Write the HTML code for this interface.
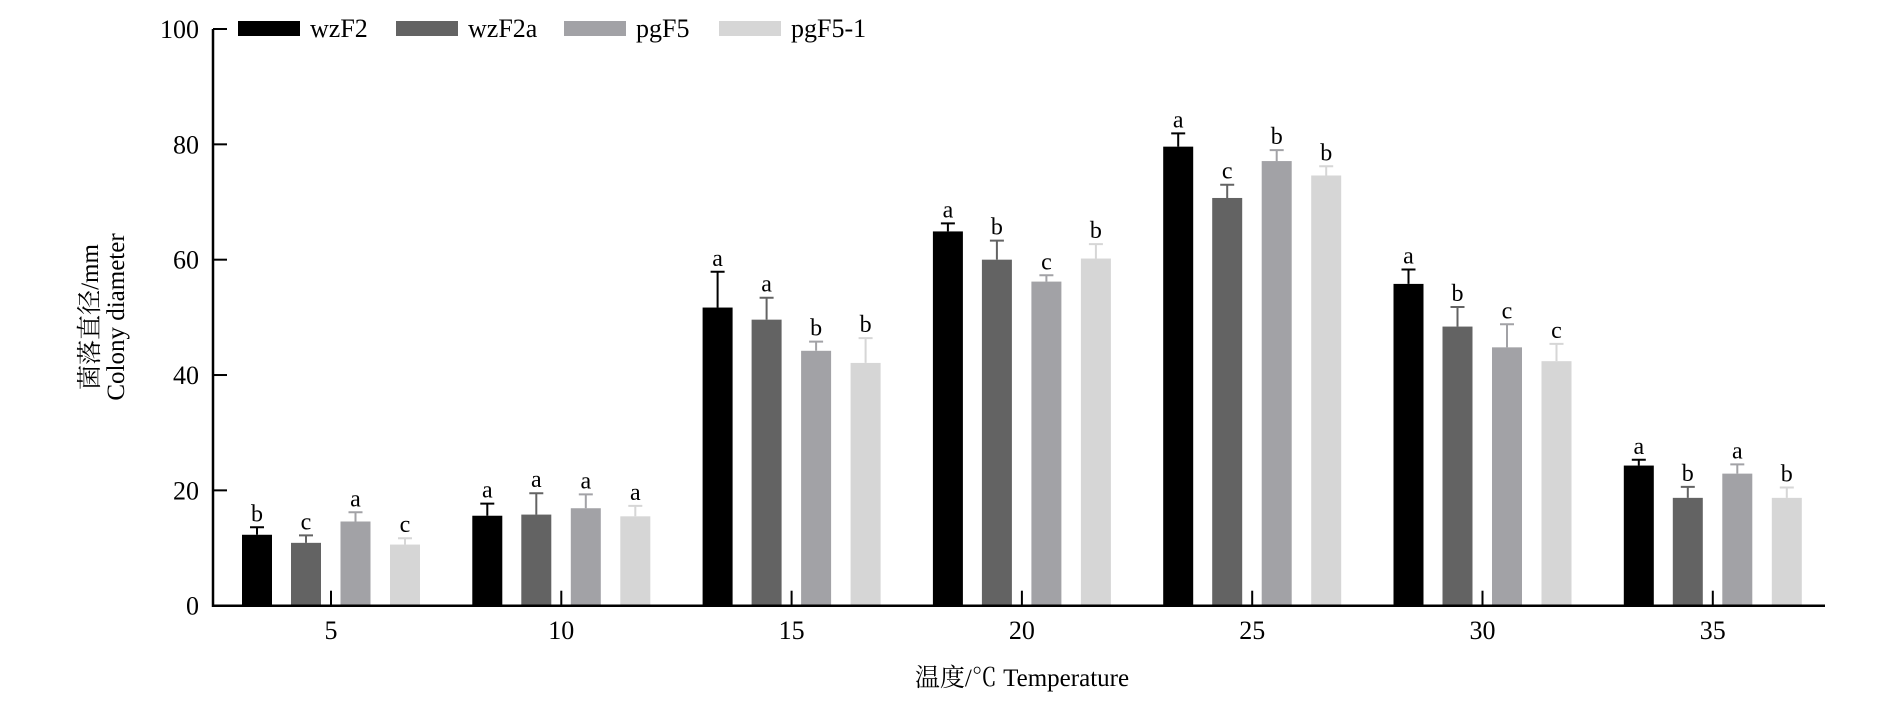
<!DOCTYPE html>
<html><head><meta charset="utf-8"><style>
html,body{margin:0;padding:0;background:#fff;}
svg text{font-family:"Liberation Serif","Noto Serif CJK SC",serif;fill:#000;}
</style></head><body>
<svg width="1890" height="709" viewBox="0 0 1890 709" xmlns="http://www.w3.org/2000/svg">
<g id="plot"></g>
</svg>
<script>
const categories = ["5","10","15","20","25","30","35"];
const seriesNames = ["wzF2","wzF2a","pgF5","pgF5-1"];
const wzF2 = [12.3,15.6,51.7,64.9,79.6,55.8,24.3];
const wzF2a = [10.9,15.8,49.6,60.0,70.7,48.4,18.7];
const pgF5 = [14.6,16.9,44.2,56.2,77.1,44.8,22.9];
const pgF51 = [10.6,15.5,42.1,60.2,74.6,42.4,18.7];
const errWzF2 = [1.3,2.1,6.2,1.4,2.3,2.5,1.0];
const errWzF2a = [1.3,3.7,3.8,3.3,2.3,3.4,1.9];
const errPgF5 = [1.6,2.4,1.6,1.1,1.9,4.0,1.6];
const errPgF51 = [1.1,1.8,4.3,2.5,1.6,3.0,1.8];
const lettersWzF2 = ["b","a","a","a","a","a","a"];
const lettersWzF2a = ["c","a","a","b","c","b","b"];
const lettersPgF5 = ["a","a","b","c","b","c","a"];
const lettersPgF51 = ["c","a","b","b","b","c","b"];
const yTicks = [0,20,40,60,80,100];

const values=[wzF2,wzF2a,pgF5,pgF51], errs=[errWzF2,errWzF2a,errPgF5,errPgF51],
 letters=[lettersWzF2,lettersWzF2a,lettersPgF5,lettersPgF51];
const colors=["#000000","#636363","#a2a2a6","#d6d6d6"];
const X0=213,X1=1825,Y0=605.7,Y100=29;
const y=v=>Y0-(v/100)*(Y0-Y100);
const gx=i=>331+i*230.3;
const offs=[-74,-25,24.5,74];
const BW=30;
const NS="http://www.w3.org/2000/svg";
const svg=document.querySelector("svg");
function mk(tag,attrs,parent){const e=document.createElementNS(NS,tag);for(const k in attrs)e.setAttribute(k,attrs[k]);(parent||svg).appendChild(e);return e;}

// bars
values.forEach((arr,s)=>{arr.forEach((v,i)=>{
 const cx=gx(i)+offs[s];
 const r=mk("rect",{x:cx-BW/2,y:y(v),width:BW,height:Y0-y(v),fill:colors[s]});
 
 
 const top=y(v+errs[s][i]);
 const ln=mk("path",{d:`M${cx} ${y(v)}V${top}M${cx-7} ${top}H${cx+7}`,stroke:colors[s],"stroke-width":2,fill:"none"});
 
 
 const t=mk("text",{x:cx,y:top-6,"text-anchor":"middle","font-size":"24"});
 t.textContent=letters[s][i];
 
 
});});

// axes
const ax=mk("path",{d:`M${X0} ${Y100}V${Y0}H${X1}`,stroke:"#000","stroke-width":2.5,fill:"none"});


yTicks.forEach(v=>{
 const tk=mk("line",{x1:X0,x2:X0+14,y1:y(v),y2:y(v),stroke:"#000","stroke-width":2});
 
 
 const t=mk("text",{x:X0-14,y:y(v)+9,"text-anchor":"end","font-size":"26"});
 t.textContent=v;
 
 
});
categories.forEach((c,i)=>{
 const tk=mk("line",{x1:gx(i),x2:gx(i),y1:Y0,y2:Y0-15,stroke:"#000","stroke-width":2});
 
 
 const t=mk("text",{x:gx(i),y:639,"text-anchor":"middle","font-size":"26"});
 t.textContent=c;
 
 
});

// legend
const lx=[238,396,564,719];
seriesNames.forEach((n,s)=>{
 const r=mk("rect",{x:lx[s],y:21,width:62,height:15,fill:colors[s]});
 
 
 const t=mk("text",{x:lx[s]+72,y:37,"font-size":"26"});
 t.textContent=n;
 
 
});

// titles
const yt=mk("text",{transform:"translate(98,317) rotate(-90)","text-anchor":"middle","font-size":"25"});
yt.textContent="菌落直径/mm";


const yt2=mk("text",{transform:"translate(124,317) rotate(-90)","text-anchor":"middle","font-size":"25"});
yt2.textContent="Colony diameter";


const xt=mk("text",{x:1022,y:686,"text-anchor":"middle","font-size":"25"});
xt.textContent="温度/℃ Temperature";


</script>
</body></html>
